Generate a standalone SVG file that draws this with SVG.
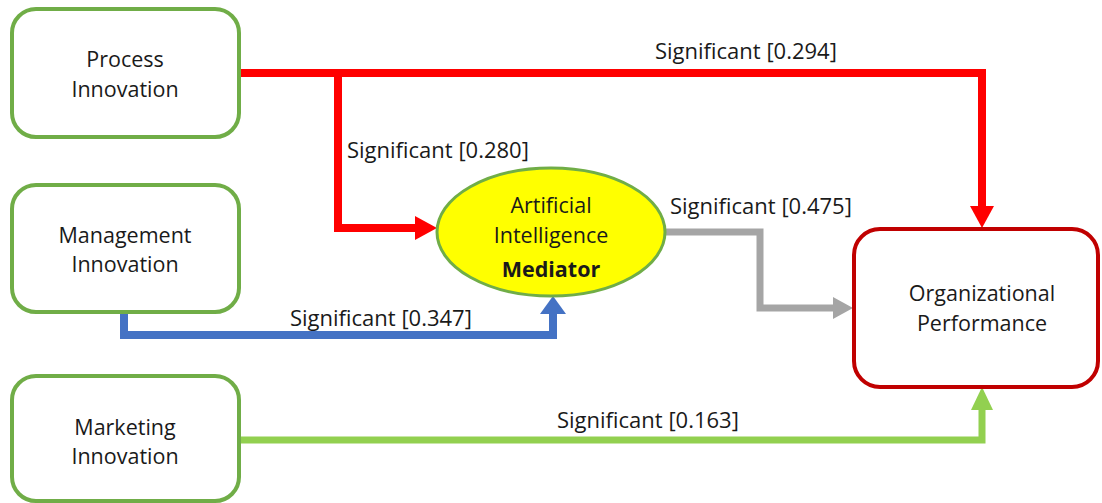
<svg xmlns="http://www.w3.org/2000/svg" width="1102" height="503" viewBox="0 0 1102 503">
<style>
.box{fill:#fff;stroke:#70AD47;stroke-width:4}
.t{font-family:"Open Sans","Liberation Sans",sans-serif;font-size:21.5px;fill:#1a1a1a;text-anchor:middle}
.lbl{font-family:"Open Sans","Liberation Sans",sans-serif;font-size:22px;fill:#1a1a1a}
.c{fill:none;stroke-linejoin:miter}
</style>
<defs>
<marker id="aR" markerUnits="userSpaceOnUse" markerWidth="22" markerHeight="24" refX="0" refY="12" orient="auto"><path d="M0,0 L22,12 L0,24 z" fill="#FF0000"/></marker>
<marker id="aB" markerUnits="userSpaceOnUse" markerWidth="18" markerHeight="26" refX="0" refY="13" orient="auto"><path d="M0,0 L18,13 L0,26 z" fill="#4472C4"/></marker>
<marker id="aG" markerUnits="userSpaceOnUse" markerWidth="20" markerHeight="22" refX="0" refY="11" orient="auto"><path d="M0,0 L20,11 L0,22 z" fill="#A5A5A5"/></marker>
<marker id="aL" markerUnits="userSpaceOnUse" markerWidth="23" markerHeight="22" refX="0" refY="11" orient="auto"><path d="M0,0 L23,11 L0,22 z" fill="#92D050"/></marker>
</defs>
<g id="connectors">
<path class="c" d="M239,73 H982 V206" stroke="#FF0000" stroke-width="8" marker-end="url(#aR)"/>
<path class="c" d="M338,73 V228 H415" stroke="#FF0000" stroke-width="8" marker-end="url(#aR)"/>
<path class="c" d="M124,312 V335 H553 V314" stroke="#4472C4" stroke-width="8" marker-end="url(#aB)"/>
<path class="c" d="M665,232 H760 V308 H833" stroke="#A5A5A5" stroke-width="7" marker-end="url(#aG)"/>
<path class="c" d="M239,440 H982 V410" stroke="#92D050" stroke-width="7" marker-end="url(#aL)"/>
<text class="lbl" x="655" y="59">Significant [0.294]</text>
<text class="lbl" x="347" y="158">Significant [0.280]</text>
<text class="lbl" x="670" y="214">Significant [0.475]</text>
<text class="lbl" x="290" y="326">Significant [0.347]</text>
<text class="lbl" x="557" y="428">Significant [0.163]</text>
</g>
<g id="process">
<rect class="box" x="12" y="9" width="227" height="128" rx="24"/>
<text class="t" x="125" y="67">Process</text>
<text class="t" x="125" y="97">Innovation</text>
</g>
<g id="management">
<rect class="box" x="12" y="185" width="227" height="127" rx="24"/>
<text class="t" x="125" y="243">Management</text>
<text class="t" x="125" y="272">Innovation</text>
</g>
<g id="marketing">
<rect class="box" x="12" y="376" width="227" height="125" rx="24"/>
<text class="t" x="125" y="435">Marketing</text>
<text class="t" x="125" y="464">Innovation</text>
</g>
<g id="ai">
<ellipse cx="551" cy="232" rx="114" ry="64" fill="#FFFF00" stroke="#70AD47" stroke-width="3"/>
<text class="t" x="551" y="213">Artificial</text>
<text class="t" x="551" y="243">Intelligence</text>
<text class="t" x="551" y="277" font-weight="bold">Mediator</text>
</g>
<g id="performance">
<rect x="854" y="229" width="244" height="158" rx="26" fill="#fff" stroke="#C00000" stroke-width="4"/>
<text class="t" x="982" y="301">Organizational</text>
<text class="t" x="982" y="331">Performance</text>
</g>
</svg>
